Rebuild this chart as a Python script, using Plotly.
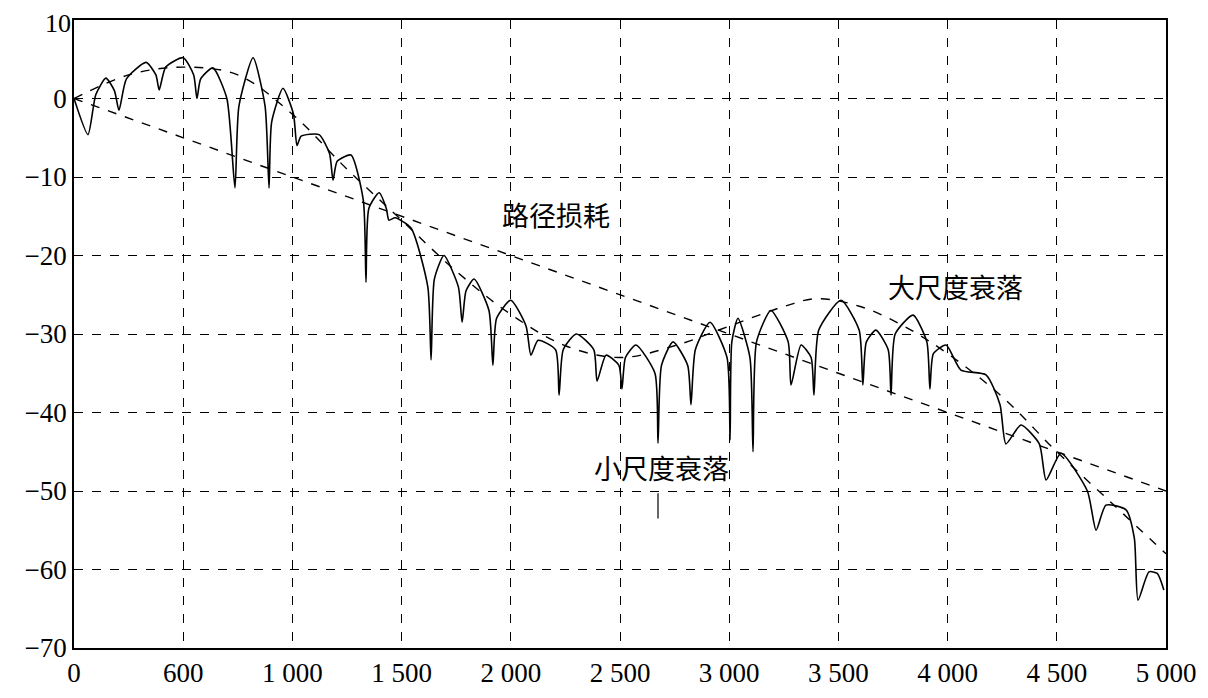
import plotly.graph_objects as go

# small-scale fading (solid)
ss_x = [0,64,100,146,185,206,240,330,375,390,420,500,548,563,580,636,700,737,755,820,875,893,905,957,1005,1021,1040,1122,1170,1186,1205,1268,1325,1337,1350,1397,1430,1442,1470,1543,1620,1635,1650,1694,1760,1777,1795,1832,1900,1918,1935,2000,2070,2092,2125,2205,2221,2240,2300,2380,2395,2436,2495,2509,2525,2573,2660,2674,2690,2743,2810,2825,2845,2912,2990,3004,3012,3040,3095,3109,3125,3191,3270,3283,3329,3375,3388,3410,3512,3595,3612,3628,3672,3728,3741,3760,3842,3905,3919,3935,3993,4061,4176,4240,4267,4336,4420,4451,4519,4640,4680,4725,4817,4855,4872,4922,4960,4990]
ss_y = [0,-4.6,0.5,2.6,1,-1.5,2.5,4.6,3,1.1,4,5.2,3,0,2.5,3.9,0,-11.4,-1,5.2,-1,-11.4,-3,1.3,-2,-6,-4.8,-4.6,-7,-10.4,-8,-7.2,-13,-23.4,-14,-12,-14,-15.5,-15.2,-16.5,-24,-33.3,-23,-20,-24,-28.5,-24.5,-23,-27,-34,-28,-25.7,-29,-32.7,-30.8,-32,-37.8,-32,-30,-32,-36,-32.7,-34,-37,-33,-31.4,-35,-43.9,-34,-31,-34,-39,-32,-28.5,-33,-43.5,-31,-28,-33,-45,-31,-27,-31,-36.5,-31.4,-33,-37.8,-29.5,-25.7,-29.5,-36.5,-31,-29.5,-32,-37.8,-30,-27.6,-31,-37,-32.5,-31.4,-34.6,-35.2,-39,-44,-41.6,-44,-48.6,-45.2,-50,-55,-51.8,-52.4,-56,-63.9,-60.3,-60.5,-62.6]
# large-scale fading (dashed)
ls_x = [0,250,500,750,1000,1250,1500,1750,2000,2250,2500,2750,3000,3250,3400,3600,3800,4000,4250,4500,4750,5000]
ls_y = [0,3,4,3,-2,-9,-15.5,-22,-27.5,-31.5,-33,-31.5,-29,-26.5,-25.5,-26.5,-29,-32.5,-38,-45,-51.5,-58]
# path loss (dashed)
pl_x = [0,5000]
pl_y = [0,-50]

x_ticks = [0,500,1000,1500,2000,2500,3000,3500,4000,4500,5000]
x_labels = ["0","600","1 000","1 500","2 000","2 500","3 000","3 500","4 000","4 500","5 000"]
y_ticks = [10,0,-10,-20,-30,-40,-50,-60,-70]
y_labels = ["10","0","−10","−20","−30","−40","−50","−60","−70"]

fig = go.Figure()
fig.add_trace(go.Scatter(x=ss_x, y=ss_y, mode="lines", line=dict(color="black", width=1.6, shape="spline", smoothing=0.6)))
fig.add_trace(go.Scatter(x=ls_x, y=ls_y, mode="lines", line=dict(color="black", width=1.4, dash="dash", shape="spline")))
fig.add_trace(go.Scatter(x=pl_x, y=pl_y, mode="lines", line=dict(color="black", width=1.4, dash="dash")))

cjk = "Noto Sans CJK SC"
fig.add_annotation(x=2207, y=-14.8, text="路径损耗", showarrow=False, font=dict(family=cjk, size=27, color="black"))
fig.add_annotation(x=4038, y=-24, text="大尺度衰落", showarrow=False, font=dict(family=cjk, size=27, color="black"))
fig.add_annotation(x=2688, y=-47, text="小尺度衰落", showarrow=False, font=dict(family=cjk, size=27, color="black"))
fig.add_shape(type="line", x0=2674, x1=2674, y0=-50.3, y1=-53.5, line=dict(color="black", width=1.2))
# top y label drawn as annotation so it is not hidden at the figure edge
fig.add_annotation(xref="paper", x=0, y=y_ticks[0], text=y_labels[0], showarrow=False, xanchor="right",
                   yanchor="top", yshift=12, xshift=-2, borderpad=0,
                   font=dict(family="Liberation Serif", size=26, color="black"))

axis_common = dict(showgrid=True, gridcolor="black", griddash="dash", gridwidth=1, automargin=False,
                   showline=True, linecolor="black", linewidth=1.5, mirror=True,
                   zeroline=False, ticks="", tickfont=dict(family="Liberation Serif", size=27, color="black"))
fig.update_xaxes(range=[0,5000], tickvals=x_ticks, ticktext=x_labels, **axis_common)
fig.update_yaxes(range=[-70,10], tickvals=y_ticks[1:], ticktext=y_labels[1:], **axis_common)
fig.update_layout(width=1208, height=698, showlegend=False, plot_bgcolor="white", paper_bgcolor="white",
                  margin=dict(l=66, r=50, t=12, b=58))
fig.write_html("out.html")
